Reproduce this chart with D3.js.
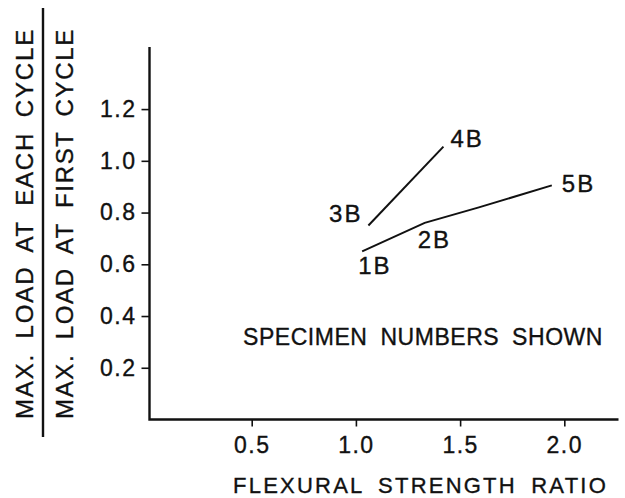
<!DOCTYPE html>
<html>
<head>
<meta charset="utf-8">
<script src="https://cdn.jsdelivr.net/npm/d3@7"></script>
<style>
  body { margin: 0; background: #fff; }
  svg text { font-family: "Liberation Sans", Arial, sans-serif; fill: #111; stroke: #111; stroke-width: 0.35px; }
</style>
</head>
<body>
<svg id="chart" width="625" height="498"></svg>
<script>
// values
const xTicks = [0.5, 1.0, 1.5, 2.0];
const yTicks = [0.2, 0.4, 0.6, 0.8, 1.0, 1.2];
const seriesA = [ // 3B -> 4B
  { x: 1.06, y: 0.75, label: "3B" },
  { x: 1.42, y: 1.055, label: "4B" }
];
const seriesB = [ // 1B -> 2B -> 5B
  { x: 1.03, y: 0.65, label: "1B" },
  { x: 1.33, y: 0.76, label: "2B" },
  { x: 1.59, y: 0.82, label: null },
  { x: 1.94, y: 0.905, label: "5B" }
];
const xTitle = "FLEXURAL STRENGTH RATIO";
const yTitleTop = "MAX. LOAD AT EACH CYCLE";
const yTitleBottom = "MAX. LOAD AT FIRST CYCLE";
const note = "SPECIMEN NUMBERS SHOWN";

const svg = d3.select("#chart");

const x = d3.scaleLinear().domain([0, 2.26]).range([147.5, 618.5]);
const y = d3.scaleLinear().domain([0, 1.44]).range([419.5, 47]);

// keep a fixed word gap and spread the letters so the text fills a given width
function fitText(sel, width, wordGap) {
  sel.style("word-spacing", `${wordGap}px`).style("letter-spacing", "0px");
  const n = sel.text().length;
  const extra = width - sel.node().getComputedTextLength();
  sel.style("letter-spacing", `${extra / n}px`);
}

// tick marks and labels
const xAxis = svg.append("g")
  .attr("transform", `translate(0,${y(0)})`)
  .call(d3.axisBottom(x).tickValues(xTicks).tickFormat(d3.format(".1f")).tickSize(7).tickPadding(10));
const yAxis = svg.append("g")
  .attr("transform", `translate(${x(0) + 2},0)`)
  .call(d3.axisLeft(y).tickValues(yTicks).tickFormat(d3.format(".1f")).tickSize(8).tickPadding(5));

[xAxis, yAxis].forEach(g => {
  g.select(".domain").remove();
  g.selectAll(".tick line").attr("stroke", "#111").attr("stroke-width", 1.6);
  g.selectAll(".tick text")
    .style("font-size", "23px")
    .style("letter-spacing", "1.5px")
    .attr("fill", "#111");
});

// axis lines
svg.append("path")
  .attr("d", `M${x(0) + 2},${y(1.44)}V${y(0)}H${x(2.26)}`)
  .attr("fill", "none").attr("stroke", "#111").attr("stroke-width", 2.4);

const line = d3.line().x(d => x(d.x)).y(d => y(d.y));
[seriesA, seriesB].forEach(s => {
  svg.append("path")
    .attr("d", line(s))
    .attr("fill", "none").attr("stroke", "#111").attr("stroke-width", 2);
});

// specimen labels
const labelOffset = {
  "3B": { dx: -6, dy: -3, anchor: "end" },
  "4B": { dx: 7, dy: 0, anchor: "start" },
  "1B": { dx: -4, dy: 23, anchor: "start" },
  "2B": { dx: -7, dy: 25, anchor: "start" },
  "5B": { dx: 10, dy: 7, anchor: "start" }
};
const labelled = seriesA.concat(seriesB).filter(d => d.label);
svg.selectAll(".spec")
  .data(labelled)
  .enter().append("text")
  .attr("class", "spec")
  .attr("x", d => x(d.x) + labelOffset[d.label].dx)
  .attr("y", d => y(d.y) + labelOffset[d.label].dy)
  .attr("text-anchor", d => labelOffset[d.label].anchor)
  .style("font-size", "24px")
  .style("letter-spacing", "2px")
  .text(d => d.label);

const noteText = svg.append("text")
  .attr("x", 243).attr("y", 345)
  .style("font-size", "23px")
  .text(note);
fitText(noteText, 360, 6);

const xTitleText = svg.append("text")
  .attr("x", 233).attr("y", 493)
  .style("font-size", "22px")
  .text(xTitle);
fitText(xTitleText, 375, 6);

// stacked y title: ratio of two loads
const yTop = svg.append("text")
  .attr("transform", "translate(33,419) rotate(-90)")
  .style("font-size", "24px")
  .text(yTitleTop);
fitText(yTop, 391, 6);
svg.append("line")
  .attr("x1", 43).attr("x2", 43).attr("y1", 8).attr("y2", 437)
  .attr("stroke", "#111").attr("stroke-width", 2.4);
const yBottom = svg.append("text")
  .attr("transform", "translate(73,419) rotate(-90)")
  .style("font-size", "24px")
  .text(yTitleBottom);
fitText(yBottom, 391, 6);
</script>
</body>
</html>
